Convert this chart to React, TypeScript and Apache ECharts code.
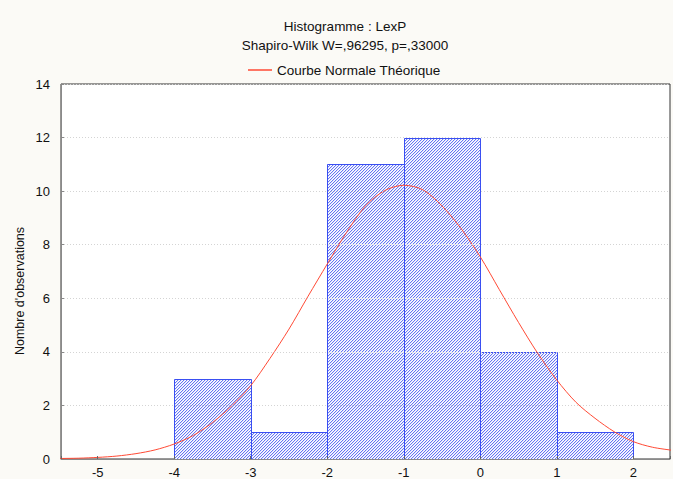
import React, { useEffect, useRef } from "react";
import * as echarts from "echarts";

const binStart = [-4, -3, -2, -1, 0, 1];
const binEnd = [-3, -2, -1, 0, 1, 2];
const counts = [3, 1, 11, 12, 4, 1];

const curveX = [
  -5.5, -5.25, -5, -4.75, -4.5, -4.25, -4, -3.75, -3.5, -3.25, -3, -2.75, -2.5, -2.25, -2,
  -1.75, -1.5, -1.25, -1, -0.75, -0.5, -0.25, 0, 0.25, 0.5, 0.75, 1, 1.25, 1.5, 1.75, 2,
  2.25, 2.5,
];
const curveY = [
  0.02, 0.03, 0.06, 0.11, 0.2, 0.34, 0.56, 0.88, 1.36, 1.98, 2.74, 3.75, 4.85, 6.08, 7.28,
  8.45, 9.45, 10.02, 10.22, 10.05, 9.45, 8.6, 7.55, 6.32, 5.1, 3.95, 2.95, 2.12, 1.52, 1.02, 0.65,
  0.44, 0.33,
];

const yTicks = [0, 2, 4, 6, 8, 10, 12, 14];

const titleLine1 = "Histogramme : LexP";
const titleLine2 = "Shapiro-Wilk W=,96295, p=,33000";
const curveName = "Courbe Normale Théorique";
const yName = "Nombre d'observations";

function makePattern() {
  const c = document.createElement("canvas");
  c.width = 3;
  c.height = 3;
  const ctx = c.getContext("2d")!;
  const cols = ["#dfe3fd", "#ffffff", "#6576f2"];
  for (let x = 0; x < 3; x++) {
    for (let y = 0; y < 3; y++) {
      ctx.fillStyle = cols[(x + y) % 3];
      ctx.fillRect(x, y, 1, 1);
    }
  }
  return { image: c, repeat: "repeat" } as any;
}

export default function App() {
  const ref = useRef<HTMLDivElement>(null);
  useEffect(() => {
    if (!ref.current) return;
    const chart = echarts.init(ref.current, null, { renderer: "svg" });
    const pattern = makePattern();
    const font = "Liberation Sans, Arial, sans-serif";
    const xMin = -5.48;
    const xMax = 2.48;
    chart.setOption({
      animation: false,
      backgroundColor: "#fbfaf6",
      textStyle: { fontFamily: font },
      grid: {
        left: 61,
        right: 0,
        top: 84,
        bottom: 19,
        show: true,
        backgroundColor: "#ffffff",
        borderWidth: 1,
        borderColor: "#333",
      },
      legend: {
        left: 243,
        top: 58,
        itemWidth: 24,
        itemHeight: 1.5,
        itemGap: 6,
        textStyle: { fontSize: 13.5, color: "#111", fontFamily: font },
        data: [{ name: curveName, icon: "rect" }],
      },
      graphic: [
        {
          type: "text",
          x: 345,
          y: 26,
          style: {
            text: titleLine1,
            fontSize: 13.5,
            fontFamily: font,
            fill: "#111",
            align: "center",
            verticalAlign: "middle",
          },
        },
        {
          type: "text",
          x: 345,
          y: 45,
          style: {
            text: titleLine2,
            fontSize: 13.5,
            fontFamily: font,
            fill: "#111",
            align: "center",
            verticalAlign: "middle",
          },
        },
        {
          type: "text",
          x: 20,
          y: 291,
          rotation: Math.PI / 2,
          style: {
            text: yName,
            fontSize: 12.5,
            fontFamily: font,
            fill: "#111",
            align: "center",
            verticalAlign: "middle",
          },
        },
      ],
      xAxis: [
        {
          type: "value",
          min: xMin,
          max: xMax,
          minInterval: 1,
          maxInterval: 1,
          splitNumber: 8,
          z: 5,
          axisLine: { onZero: false, lineStyle: { color: "#8a8a8a", width: 1 } },
          axisTick: { inside: true, length: 3, lineStyle: { color: "#666" } },
          axisLabel: {
            fontSize: 13,
            color: "#111",
            margin: 7,
            fontFamily: font,
            formatter: (v: number) => (Math.abs(v - Math.round(v)) < 1e-6 ? String(Math.round(v)) : ""),
          },
          splitLine: { show: false },
        },
      ],
      yAxis: [
        {
          type: "value",
          min: 0,
          max: 14,
          interval: 2,
          z: 5,
          axisLine: { show: true, onZero: false, lineStyle: { color: "#8a8a8a", width: 1 } },
          axisTick: { show: true, inside: true, length: 3, lineStyle: { color: "#888" } },
          axisLabel: {
            fontSize: 13,
            color: "#111",
            margin: 11,
            fontFamily: font,
            formatter: (v: number) => (yTicks.includes(v) ? String(v) : ""),
          },
          splitLine: { show: true, lineStyle: { color: "#d4d4d4", type: [1, 2], width: 1 } },
        },
      ],
      series: [
        {
          type: "custom",
          name: "Histogramme",
          clip: true,
          data: binStart.map((s, i) => [s, binEnd[i], counts[i]]),
          renderItem: (params: any, api: any) => {
            const x0 = api.value(0);
            const x1 = api.value(1);
            const y = api.value(2);
            const p0 = api.coord([x0, y]);
            const p1 = api.coord([x1, 0]);
            return {
              type: "rect",
              shape: {
                x: Math.round(p0[0]) + 0.5,
                y: Math.round(p0[1]) + 0.5,
                width: Math.round(p1[0]) - Math.round(p0[0]),
                height: Math.round(p1[1]) - Math.round(p0[1]),
              },
              style: { fill: pattern, stroke: "#3a4ff2", lineWidth: 1 },
            };
          },
          z: 2,
        },
        {
          type: "line",
          name: curveName,
          data: curveX.map((x, i) => [x, curveY[i]]),
          smooth: 0.3,
          symbol: "none",
          clip: true,
          lineStyle: { color: "#ff4a35", width: 1 },
          itemStyle: { color: "#ff4a35" },
          z: 3,
        },
      ],
    });
    return () => chart.dispose();
  }, []);
  return <div ref={ref} style={{ width: 673, height: 479, position: "absolute", left: 0, top: 0 }} />;
}
